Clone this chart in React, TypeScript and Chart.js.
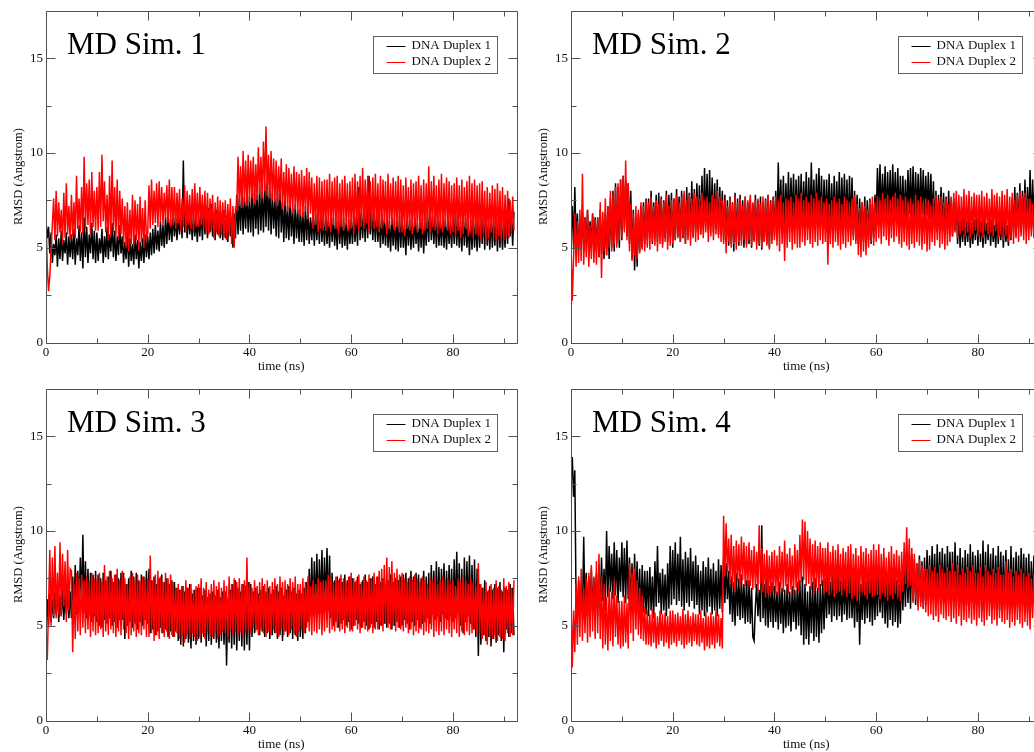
import React, { useEffect, useRef } from "react";
import { Chart, registerables } from "chart.js";

Chart.register(...registerables);

// Sampling interval of the RMSD traces, in ns
const STEP_NS = 0.25;
// Trace values are stored in tenths of an Angstrom
const RMSD_UNIT = 0.1;
const X_MAX = 92.5;
const Y_MAX = 17.5;
const X_MAJOR_TICKS = [0, 20, 40, 60, 80];
const X_MINOR_TICKS = [10, 30, 50, 70, 90];
const Y_MAJOR_TICKS = [0, 5, 10, 15];
const Y_MINOR_TICKS = [2.5, 7.5, 12.5];
const SERIES_LABELS = ["DNA Duplex 1", "DNA Duplex 2"];
const SERIES_COLORS = ["#000000", "#ff0000"];
const SIM_TITLES = ["MD Sim. 1", "MD Sim. 2", "MD Sim. 3", "MD Sim. 4"];
const X_TITLE = "time (ns)";
const Y_TITLE = "RMSD (Angstrom)";

// RMSD in 0.1 Angstrom, one sample per 0.25 ns, one row per 5 ns
const sim1Duplex1 = [
  64, 55, 61, 47, 58, 42, 52, 46, 57, 40, 55, 44, 59, 43, 54, 47, 58, 41, 56, 45,
  57, 44, 60, 41, 55, 46, 62, 43, 58, 39, 66, 45, 61, 42, 57, 47, 63, 44, 59, 42,
  58, 43, 55, 47, 60, 42, 56, 45, 61, 44, 57, 48, 63, 45, 59, 43, 56, 46, 62, 47,
  56, 42, 53, 44, 58, 40, 55, 43, 52, 41, 57, 44, 54, 39, 53, 43, 55, 42, 57, 45,
  56, 44, 58, 46, 60, 47, 62, 49, 59, 48, 64, 51, 62, 50, 66, 52, 68, 54, 65, 53,
  69, 56, 66, 54, 68, 57, 70, 55, 96, 58, 67, 55, 69, 57, 66, 54, 68, 56, 65, 53,
  67, 56, 70, 54, 72, 57, 69, 55, 71, 58, 73, 56, 68, 54, 70, 57, 69, 55, 67, 54,
  70, 55, 67, 53, 69, 56, 66, 50, 68, 55, 78, 57, 76, 59, 80, 57, 77, 60, 79, 58,
  77, 58, 79, 56, 81, 60, 78, 57, 83, 59, 80, 58, 84, 61, 86, 59, 82, 57, 79, 60,
  76, 56, 81, 55, 84, 58, 74, 53, 77, 55, 72, 54, 75, 56, 71, 52, 73, 55, 70, 53,
  71, 53, 69, 51, 72, 54, 70, 52, 66, 54, 69, 51, 68, 54, 67, 52, 70, 53, 66, 51,
  67, 52, 65, 50, 68, 53, 66, 51, 64, 49, 67, 52, 65, 50, 66, 51, 63, 49, 65, 52,
  65, 52, 67, 53, 66, 51, 82, 54, 69, 55, 70, 53, 72, 55, 88, 57, 71, 54, 69, 53,
  69, 53, 66, 50, 68, 52, 65, 51, 67, 50, 64, 48, 66, 51, 65, 49, 64, 48, 67, 50,
  66, 50, 63, 46, 67, 51, 65, 49, 64, 50, 66, 52, 63, 48, 65, 50, 66, 47, 64, 51,
  69, 53, 70, 54, 67, 52, 66, 50, 68, 51, 64, 51, 67, 50, 65, 49, 66, 52, 64, 50,
  68, 52, 69, 51, 66, 50, 64, 48, 67, 51, 66, 50, 63, 46, 65, 49, 67, 50, 64, 48,
  67, 50, 65, 52, 68, 49, 66, 51, 64, 49, 67, 50, 65, 51, 68, 48, 66, 50, 64, 49,
  65, 50, 69, 52, 76, 56, 67, 51, 69,
];
const sim1Duplex2 = [
  66, 40, 27, 35, 50, 62, 76, 54, 80, 56, 74, 58, 70, 52, 79, 55, 84, 57, 72, 54,
  78, 56, 74, 55, 88, 60, 76, 58, 82, 57, 98, 60, 84, 62, 86, 57, 90, 61, 80, 59,
  82, 59, 90, 61, 99, 64, 85, 58, 78, 54, 88, 56, 96, 58, 82, 56, 86, 55, 80, 57,
  76, 52, 72, 50, 74, 48, 70, 52, 78, 51, 75, 54, 73, 49, 77, 53, 71, 50, 75, 54,
  58, 83, 60, 86, 62, 80, 63, 84, 61, 85, 64, 82, 62, 79, 65, 83, 63, 86, 61, 82,
  62, 82, 60, 79, 63, 81, 59, 76, 61, 83, 58, 80, 62, 78, 60, 81, 59, 84, 61, 79,
  61, 82, 62, 78, 60, 80, 58, 79, 57, 76, 59, 78, 55, 74, 58, 77, 56, 75, 57, 74,
  56, 75, 54, 73, 57, 76, 52, 72, 50, 71, 70, 98, 72, 93, 71, 101, 74, 96, 72, 99,
  74, 96, 76, 98, 73, 94, 75, 103, 78, 98, 76, 106, 80, 114, 77, 99, 76, 101, 75, 97,
  74, 96, 72, 93, 75, 97, 70, 90, 72, 94, 69, 92, 71, 89, 68, 93, 70, 90, 68, 89,
  67, 91, 66, 88, 69, 92, 65, 90, 68, 87, 60, 84, 62, 88, 58, 87, 60, 85, 59, 86,
  59, 86, 61, 89, 58, 85, 62, 87, 60, 88, 57, 84, 61, 86, 59, 88, 62, 84, 59, 85,
  60, 87, 57, 89, 62, 85, 59, 88, 61, 92, 60, 86, 63, 88, 58, 85, 61, 87, 60, 89,
  61, 84, 58, 88, 60, 86, 63, 85, 57, 89, 60, 84, 62, 87, 59, 85, 61, 88, 58, 86,
  58, 83, 56, 87, 60, 82, 59, 86, 57, 84, 61, 85, 58, 88, 60, 83, 57, 86, 59, 84,
  60, 93, 58, 85, 61, 88, 59, 83, 57, 86, 60, 89, 58, 84, 61, 87, 59, 85, 57, 83,
  58, 84, 56, 87, 59, 83, 55, 86, 57, 82, 60, 85, 56, 88, 58, 84, 55, 86, 57, 83,
  56, 84, 54, 85, 57, 80, 53, 82, 55, 79, 58, 83, 55, 81, 54, 84, 56, 80, 53, 82,
  54, 78, 56, 80, 55, 75, 58, 77, 59,
];
const sim2Duplex1 = [
  56, 72, 50, 82, 53, 68, 49, 65, 51, 69, 48, 66, 52, 70, 47, 64, 50, 68, 49, 66,
  48, 66, 45, 70, 47, 64, 44, 68, 46, 72, 44, 76, 50, 80, 48, 84, 52, 82, 50, 86,
  54, 88, 60, 86, 56, 84, 52, 80, 44, 70, 38, 66, 40, 68, 48, 72, 50, 74, 52, 76,
  54, 76, 56, 80, 52, 74, 55, 78, 53, 79, 56, 77, 52, 75, 55, 80, 53, 78, 56, 79,
  50, 76, 54, 81, 56, 77, 53, 80, 55, 78, 52, 82, 56, 79, 58, 85, 56, 81, 58, 84,
  59, 83, 57, 88, 60, 92, 62, 89, 59, 91, 61, 87, 58, 84, 60, 86, 57, 82, 59, 80,
  54, 78, 53, 75, 51, 77, 52, 74, 48, 79, 53, 76, 51, 78, 54, 75, 50, 77, 52, 74,
  52, 76, 50, 73, 54, 78, 53, 75, 51, 77, 49, 74, 53, 76, 52, 78, 50, 75, 54, 77,
  56, 80, 58, 95, 62, 86, 59, 88, 60, 84, 63, 90, 61, 87, 64, 89, 60, 86, 62, 88,
  63, 89, 61, 85, 64, 90, 60, 87, 62, 95, 63, 86, 61, 89, 65, 92, 62, 88, 60, 86,
  63, 86, 61, 89, 60, 84, 62, 88, 59, 85, 62, 90, 60, 87, 63, 89, 61, 86, 59, 88,
  60, 87, 56, 80, 54, 78, 52, 76, 55, 74, 53, 77, 51, 75, 54, 76, 52, 73, 55, 78,
  66, 92, 68, 94, 65, 89, 67, 93, 64, 90, 67, 91, 65, 94, 68, 90, 66, 92, 64, 88,
  66, 88, 63, 86, 65, 91, 68, 92, 66, 93, 64, 90, 67, 89, 65, 92, 68, 91, 66, 88,
  67, 90, 65, 89, 63, 85, 60, 80, 58, 78, 61, 82, 59, 79, 57, 77, 60, 80, 58, 76,
  56, 76, 59, 74, 52, 68, 50, 65, 53, 67, 51, 64, 53, 66, 50, 63, 52, 65, 54, 67,
  51, 66, 53, 64, 50, 69, 52, 63, 54, 67, 51, 65, 53, 62, 50, 66, 52, 64, 54, 67,
  50, 65, 53, 62, 51, 68, 54, 76, 58, 82, 56, 79, 60, 84, 58, 80, 61, 86, 59, 82,
  62, 91, 60, 86, 63, 88, 61, 90, 64,
];
const sim2Duplex2 = [
  52, 22, 44, 68, 40, 64, 42, 70, 43, 89, 41, 66, 45, 70, 40, 62, 44, 68, 42, 65,
  41, 66, 45, 74, 34, 69, 48, 76, 46, 72, 50, 80, 48, 78, 52, 82, 50, 84, 54, 86,
  55, 88, 58, 96, 54, 84, 48, 73, 43, 68, 46, 72, 44, 70, 47, 74, 49, 72, 48, 75,
  50, 74, 49, 77, 53, 72, 51, 75, 48, 73, 52, 76, 50, 74, 53, 78, 49, 72, 51, 75,
  52, 76, 54, 78, 55, 74, 53, 77, 56, 80, 52, 75, 54, 78, 51, 76, 55, 79, 53, 77,
  54, 76, 57, 79, 55, 75, 58, 77, 53, 74, 56, 78, 54, 76, 57, 80, 55, 77, 53, 75,
  52, 75, 47, 72, 53, 76, 50, 73, 52, 77, 49, 74, 53, 76, 51, 72, 54, 77, 50, 75,
  54, 78, 51, 74, 53, 75, 49, 76, 52, 73, 50, 77, 53, 75, 51, 78, 49, 74, 52, 76,
  54, 77, 51, 75, 48, 78, 52, 74, 43, 76, 50, 75, 53, 77, 49, 74, 52, 78, 50, 76,
  50, 79, 53, 75, 51, 77, 54, 74, 52, 78, 50, 76, 53, 79, 51, 75, 54, 77, 52, 74,
  53, 76, 41, 73, 52, 75, 50, 77, 53, 74, 51, 76, 49, 73, 52, 77, 50, 75, 53, 74,
  51, 76, 54, 78, 52, 73, 46, 71, 45, 74, 48, 72, 46, 70, 50, 75, 53, 77, 51, 74,
  53, 77, 55, 75, 52, 79, 56, 76, 54, 78, 51, 75, 55, 77, 53, 79, 56, 76, 52, 78,
  50, 75, 53, 77, 51, 74, 49, 76, 52, 73, 50, 78, 53, 75, 51, 77, 49, 74, 52, 76,
  48, 75, 49, 72, 53, 76, 51, 78, 54, 75, 50, 77, 52, 74, 49, 76, 51, 73, 53, 77,
  56, 79, 58, 80, 55, 78, 57, 77, 59, 81, 56, 78, 58, 80, 55, 77, 57, 79, 59, 78,
  56, 78, 58, 80, 55, 77, 59, 79, 57, 76, 58, 81, 56, 78, 59, 79, 55, 77, 57, 80,
  54, 78, 56, 81, 53, 77, 55, 79, 52, 75, 55, 78, 53, 80, 56, 77, 54, 79, 52, 76,
  54, 76, 56, 73, 55, 77, 57, 75, 58,
];
const sim3Duplex1 = [
  46, 64, 50, 67, 52, 64, 54, 68, 56, 70, 52, 66, 55, 69, 53, 67, 56, 70, 54, 68,
  54, 76, 58, 82, 56, 79, 60, 86, 62, 98, 57, 84, 54, 80, 56, 78, 52, 77, 55, 79,
  52, 77, 50, 75, 49, 78, 53, 74, 51, 76, 54, 79, 50, 73, 52, 77, 49, 75, 53, 78,
  53, 78, 43, 72, 50, 75, 52, 79, 49, 76, 51, 78, 48, 74, 52, 77, 50, 76, 53, 79,
  51, 80, 46, 74, 48, 76, 45, 72, 47, 75, 49, 77, 46, 73, 48, 75, 44, 72, 47, 74,
  44, 73, 47, 70, 42, 69, 40, 71, 39, 68, 43, 70, 41, 72, 38, 67, 42, 69, 40, 70,
  43, 70, 41, 66, 44, 69, 39, 65, 42, 67, 40, 68, 43, 66, 41, 69, 38, 65, 42, 68,
  40, 68, 29, 64, 41, 69, 38, 72, 40, 74, 37, 70, 42, 68, 39, 72, 37, 71, 40, 73,
  37, 72, 44, 68, 46, 70, 48, 67, 45, 69, 47, 71, 44, 68, 46, 70, 43, 67, 45, 69,
  46, 71, 43, 68, 45, 70, 42, 66, 47, 69, 44, 71, 46, 68, 43, 70, 45, 67, 42, 69,
  44, 67, 43, 70, 46, 73, 52, 80, 56, 86, 55, 84, 58, 88, 56, 85, 59, 90, 57, 86,
  60, 91, 58, 87, 54, 78, 50, 74, 52, 76, 49, 75, 51, 73, 53, 77, 50, 74, 52, 76,
  48, 75, 50, 73, 53, 76, 51, 72, 49, 74, 52, 77, 50, 73, 48, 75, 51, 76, 49, 72,
  52, 76, 48, 73, 50, 75, 51, 72, 49, 74, 51, 77, 48, 73, 50, 75, 52, 74, 49, 76,
  50, 77, 53, 78, 51, 75, 48, 79, 52, 76, 50, 78, 53, 77, 49, 75, 51, 79, 52, 76,
  54, 78, 51, 82, 56, 79, 53, 84, 55, 81, 52, 80, 56, 83, 54, 79, 53, 82, 55, 80,
  52, 85, 54, 89, 56, 83, 50, 80, 46, 86, 52, 84, 55, 87, 51, 82, 48, 85, 44, 80,
  34, 72, 40, 70, 45, 74, 42, 68, 44, 71, 39, 69, 43, 72, 41, 70, 45, 73, 42, 68,
  36, 70, 48, 69, 44, 72, 46, 70, 45,
];
const sim3Duplex2 = [
  45, 32, 60, 90, 50, 86, 55, 92, 54, 78, 56, 94, 55, 88, 60, 84, 52, 90, 58, 80,
  79, 36, 72, 43, 78, 47, 75, 45, 77, 49, 74, 46, 76, 48, 73, 44, 78, 47, 75, 45,
  74, 46, 78, 48, 73, 44, 82, 47, 76, 45, 79, 48, 75, 46, 77, 44, 80, 47, 74, 45,
  79, 48, 75, 46, 72, 43, 76, 45, 78, 47, 74, 44, 77, 46, 73, 45, 76, 48, 75, 44,
  75, 44, 87, 46, 74, 42, 77, 45, 79, 43, 76, 46, 73, 44, 78, 47, 75, 43, 77, 45,
  73, 44, 70, 46, 72, 43, 69, 45, 71, 41, 74, 45, 70, 43, 72, 46, 69, 44, 71, 42,
  72, 44, 75, 46, 70, 43, 73, 47, 69, 45, 72, 44, 74, 46, 71, 43, 73, 45, 70, 47,
  74, 46, 71, 44, 76, 48, 72, 45, 75, 47, 73, 45, 75, 47, 72, 44, 74, 46, 86, 48,
  73, 46, 70, 49, 74, 47, 71, 45, 73, 48, 75, 46, 72, 44, 74, 47, 71, 45, 73, 48,
  75, 46, 72, 44, 76, 48, 73, 45, 74, 47, 72, 45, 75, 48, 73, 46, 76, 44, 72, 47,
  72, 48, 75, 46, 73, 49, 76, 47, 71, 45, 74, 47, 72, 46, 75, 48, 73, 45, 74, 47,
  74, 49, 77, 46, 75, 48, 73, 47, 76, 49, 74, 47, 77, 48, 75, 46, 73, 49, 76, 47,
  78, 47, 75, 50, 74, 48, 77, 46, 73, 49, 76, 48, 74, 47, 77, 49, 75, 46, 78, 48,
  76, 48, 79, 50, 80, 47, 82, 51, 86, 49, 81, 48, 84, 50, 78, 47, 80, 49, 77, 48,
  78, 47, 75, 49, 73, 46, 76, 48, 74, 45, 77, 47, 75, 46, 73, 48, 76, 45, 74, 47,
  72, 46, 75, 48, 73, 44, 76, 47, 72, 45, 74, 47, 76, 45, 73, 48, 75, 46, 72, 44,
  74, 48, 71, 46, 75, 44, 73, 47, 76, 45, 74, 47, 72, 45, 75, 46, 73, 48, 71, 45,
  83, 46, 72, 43, 70, 45, 73, 40, 69, 44, 72, 43, 70, 45, 74, 42, 71, 44, 69, 43,
  75, 42, 71, 46, 73, 44, 70, 45, 74,
];
const sim4Duplex1 = [
  126, 139, 118, 132, 62, 56, 74, 53, 72, 56, 97, 58, 78, 55, 76, 54, 80, 57, 75, 59,
  78, 55, 82, 60, 86, 63, 80, 58, 100, 65, 92, 68, 88, 64, 94, 66, 90, 62, 86, 68,
  94, 65, 91, 62, 95, 64, 86, 59, 83, 56, 88, 60, 84, 58, 80, 55, 82, 57, 79, 56,
  79, 55, 81, 58, 76, 54, 84, 60, 92, 62, 78, 56, 80, 58, 77, 55, 83, 59, 92, 61,
  90, 64, 94, 61, 88, 63, 97, 60, 85, 58, 89, 62, 86, 60, 91, 63, 84, 59, 87, 61,
  82, 56, 79, 58, 84, 55, 81, 57, 86, 60, 80, 56, 83, 58, 79, 55, 85, 59, 82, 57,
  85, 62, 83, 64, 79, 56, 76, 52, 73, 50, 78, 55, 75, 53, 77, 54, 72, 51, 74, 52,
  74, 51, 70, 44, 42, 60, 72, 55, 69, 52, 103, 54, 72, 50, 75, 49, 71, 52, 73, 49,
  71, 52, 68, 48, 73, 51, 70, 46, 69, 49, 72, 50, 68, 47, 71, 52, 69, 48, 73, 50,
  74, 45, 76, 40, 72, 43, 68, 40, 71, 46, 73, 42, 75, 44, 70, 41, 72, 46, 74, 48,
  75, 54, 78, 56, 73, 52, 79, 55, 76, 53, 78, 55, 74, 52, 77, 56, 75, 53, 79, 54,
  78, 54, 74, 49, 77, 52, 75, 40, 72, 53, 76, 51, 74, 54, 78, 52, 75, 50, 77, 53,
  76, 55, 80, 57, 74, 54, 78, 51, 73, 49, 77, 53, 75, 50, 79, 52, 74, 49, 72, 51,
  79, 58, 82, 60, 86, 62, 84, 59, 88, 63, 85, 61, 83, 60, 87, 62, 84, 59, 86, 61,
  90, 64, 87, 62, 92, 65, 88, 61, 93, 64, 89, 63, 91, 62, 88, 60, 92, 64, 89, 62,
  89, 60, 94, 63, 87, 59, 91, 62, 86, 58, 90, 61, 88, 60, 93, 62, 89, 59, 87, 61,
  90, 61, 88, 57, 95, 60, 89, 58, 93, 62, 88, 60, 91, 59, 87, 61, 92, 58, 89, 60,
  87, 59, 90, 61, 85, 56, 92, 59, 86, 57, 89, 60, 87, 58, 91, 61, 88, 59, 86, 57,
  88, 60, 84, 62, 87, 59, 85, 61, 79,
];
const sim4Duplex2 = [
  62, 28, 58, 36, 72, 40, 76, 44, 80, 42, 70, 46, 75, 41, 78, 44, 82, 47, 76, 43,
  84, 46, 88, 43, 76, 38, 72, 40, 65, 37, 70, 42, 68, 39, 74, 44, 66, 40, 63, 38,
  63, 39, 66, 41, 62, 38, 83, 46, 78, 42, 80, 48, 74, 45, 70, 43, 66, 42, 60, 40,
  58, 40, 56, 39, 59, 41, 57, 38, 55, 40, 58, 42, 56, 39, 57, 41, 55, 38, 58, 40,
  58, 41, 56, 39, 57, 42, 55, 40, 59, 38, 56, 40, 58, 41, 55, 39, 57, 42, 56, 40,
  56, 39, 58, 41, 54, 37, 57, 39, 55, 38, 57, 40, 55, 38, 58, 41, 56, 39, 54, 38,
  108, 76, 104, 78, 96, 72, 98, 70, 92, 68, 95, 73, 93, 70, 97, 74, 94, 71, 92, 69,
  94, 71, 90, 69, 92, 70, 89, 68, 103, 72, 91, 68, 88, 65, 90, 67, 87, 66, 89, 68,
  90, 67, 87, 66, 92, 70, 89, 68, 95, 71, 88, 67, 91, 69, 87, 66, 93, 70, 90, 68,
  98, 73, 106, 74, 105, 71, 100, 72, 96, 69, 93, 67, 95, 70, 92, 68, 94, 71, 91, 67,
  91, 68, 94, 66, 89, 69, 92, 65, 90, 67, 93, 68, 88, 66, 91, 69, 89, 65, 92, 67,
  93, 64, 88, 66, 91, 63, 87, 65, 92, 68, 89, 66, 91, 64, 88, 67, 90, 65, 93, 66,
  90, 66, 93, 64, 88, 67, 91, 65, 86, 63, 89, 66, 92, 64, 88, 67, 90, 65, 87, 63,
  89, 68, 94, 72, 102, 70, 96, 71, 91, 62, 88, 64, 83, 58, 85, 60, 82, 59, 80, 57,
  80, 55, 82, 56, 79, 53, 81, 55, 78, 52, 82, 56, 80, 54, 78, 53, 81, 55, 79, 52,
  83, 54, 79, 51, 82, 55, 77, 50, 80, 53, 78, 52, 81, 54, 79, 51, 82, 53, 78, 50,
  78, 54, 81, 52, 76, 50, 82, 53, 79, 55, 77, 51, 80, 53, 78, 50, 81, 54, 77, 52,
  77, 51, 84, 53, 78, 49, 80, 52, 76, 50, 79, 53, 77, 51, 80, 49, 78, 52, 76, 50,
  78, 48, 75, 54, 77, 50, 76, 53, 72,
];

const SERIF = "'Liberation Serif', 'Times New Roman', 'DejaVu Serif', serif";
const FRAME_COLOR = "#505050";
const TEXT_COLOR = "#111111";
const TRACE_WIDTH = 1.5;

// Geometry of one panel canvas (plot frame sits inside it)
const CANVAS_W = 526;
const CANVAS_H = 376;
const PLOT_TOP = 10.5;
const PLOT_RIGHT_GAP = 9.5;
const Y_AXIS_W = 46;
const X_AXIS_H = 33.5;
const MAJOR_TICK = 9;
const MINOR_TICK = 5;

type PanelSpec = {
  title: string;
  duplex1: number[];
  duplex2: number[];
  left: number;
  top: number;
};

const PANELS: PanelSpec[] = [
  { title: SIM_TITLES[0], duplex1: sim1Duplex1, duplex2: sim1Duplex2, left: 0, top: 0 },
  { title: SIM_TITLES[1], duplex1: sim2Duplex1, duplex2: sim2Duplex2, left: 525, top: 0 },
  { title: SIM_TITLES[2], duplex1: sim3Duplex1, duplex2: sim3Duplex2, left: 0, top: 378 },
  { title: SIM_TITLES[3], duplex1: sim4Duplex1, duplex2: sim4Duplex2, left: 525, top: 378 },
];

const toPoints = (values: number[]) =>
  values.map((v, i) => ({ x: i * STEP_NS, y: v * RMSD_UNIT }));

function Panel({ spec }: { spec: PanelSpec }) {
  const ref = useRef<HTMLCanvasElement | null>(null);

  useEffect(() => {
    const canvas = ref.current;
    if (!canvas) return;

    // Boxed frame with inward ticks on all four sides, the run title and the legend box
    const gracePlugin = {
      id: "graceFrame",
      afterDraw(chart: any) {
        const { ctx, chartArea: a, scales } = chart;
        const xs = scales.x;
        const ys = scales.y;
        ctx.save();
        ctx.strokeStyle = FRAME_COLOR;
        ctx.lineWidth = 1;
        const L = Math.round(a.left) + 0.5;
        const R = Math.round(a.right) + 0.5;
        const T = Math.round(a.top) + 0.5;
        const B = Math.round(a.bottom) + 0.5;
        ctx.beginPath();
        ctx.rect(L, T, R - L, B - T);
        const xTick = (v: number, len: number) => {
          const px = Math.round(xs.getPixelForValue(v)) + 0.5;
          ctx.moveTo(px, B);
          ctx.lineTo(px, B - len);
          ctx.moveTo(px, T);
          ctx.lineTo(px, T + len);
        };
        const yTick = (v: number, len: number) => {
          const py = Math.round(ys.getPixelForValue(v)) + 0.5;
          ctx.moveTo(L, py);
          ctx.lineTo(L + len, py);
          ctx.moveTo(R, py);
          ctx.lineTo(R - len, py);
        };
        X_MAJOR_TICKS.forEach((v) => xTick(v, MAJOR_TICK));
        X_MINOR_TICKS.forEach((v) => xTick(v, MINOR_TICK));
        Y_MAJOR_TICKS.forEach((v) => yTick(v, MAJOR_TICK));
        Y_MINOR_TICKS.forEach((v) => yTick(v, MINOR_TICK));
        ctx.stroke();

        // run title
        ctx.fillStyle = "#000";
        ctx.font = `31px ${SERIF}`;
        ctx.textAlign = "left";
        ctx.textBaseline = "alphabetic";
        ctx.fillText(spec.title, a.left + 21, a.top + 43);

        // legend
        const bx = Math.round(a.left + 327) + 0.5;
        const by = Math.round(a.top + 25.5) + 0.5;
        const bw = 124;
        const bh = 37;
        ctx.fillStyle = "#ffffff";
        ctx.fillRect(bx, by, bw, bh);
        ctx.strokeStyle = "#606060";
        ctx.strokeRect(bx, by, bw, bh);
        ctx.font = `13px ${SERIF}`;
        ctx.textBaseline = "middle";
        SERIES_LABELS.forEach((label, i) => {
          const ry = by + 9 + i * 16.5;
          ctx.strokeStyle = SERIES_COLORS[i];
          ctx.beginPath();
          ctx.moveTo(bx + 13, Math.round(ry) + 0.5);
          ctx.lineTo(bx + 32, Math.round(ry) + 0.5);
          ctx.stroke();
          ctx.fillStyle = TEXT_COLOR;
          ctx.fillText(label, bx + 38, ry);
        });
        ctx.restore();
      },
    };

    const chart = new Chart(canvas, {
      type: "line",
      data: {
        datasets: [
          {
            label: SERIES_LABELS[0],
            data: toPoints(spec.duplex1),
            borderColor: SERIES_COLORS[0],
            borderWidth: TRACE_WIDTH,
            pointRadius: 0,
            tension: 0,
            fill: false,
            order: 1,
          },
          {
            label: SERIES_LABELS[1],
            data: toPoints(spec.duplex2),
            borderColor: SERIES_COLORS[1],
            borderWidth: TRACE_WIDTH,
            pointRadius: 0,
            tension: 0,
            fill: false,
            order: 0,
          },
        ],
      },
      options: {
        animation: false,
        responsive: false,
        events: [],
        layout: { padding: { left: 0, top: PLOT_TOP, right: PLOT_RIGHT_GAP, bottom: 0 } },
        plugins: {
          legend: { display: false },
          tooltip: { enabled: false },
          title: { display: false },
        },
        scales: {
          x: {
            type: "linear",
            min: 0,
            max: X_MAX,
            grid: { display: false, drawTicks: false },
            border: { display: false },
            ticks: {
              stepSize: 10,
              includeBounds: false,
              autoSkip: false,
              maxRotation: 0,
              padding: 2,
              color: TEXT_COLOR,
              font: { family: SERIF, size: 13 },
              callback: (v: any) => (X_MAJOR_TICKS.includes(Number(v)) ? String(v) : ""),
            },
            title: {
              display: true,
              text: X_TITLE,
              color: TEXT_COLOR,
              font: { family: SERIF, size: 13 },
              padding: { top: 0, bottom: 2 },
            },
            afterFit: (s: any) => {
              s.height = X_AXIS_H;
            },
          },
          y: {
            type: "linear",
            min: 0,
            max: Y_MAX,
            grid: { display: false, drawTicks: false },
            border: { display: false },
            ticks: {
              stepSize: 2.5,
              includeBounds: false,
              autoSkip: false,
              padding: 3,
              color: TEXT_COLOR,
              font: { family: SERIF, size: 13 },
              callback: (v: any) => (Y_MAJOR_TICKS.includes(Number(v)) ? String(v) : ""),
            },
            title: {
              display: true,
              text: Y_TITLE,
              color: TEXT_COLOR,
              font: { family: SERIF, size: 12.5 },
              padding: { top: 11, bottom: 0 },
            },
            afterFit: (s: any) => {
              s.width = Y_AXIS_W;
            },
          },
        },
      },
      plugins: [gracePlugin],
    });

    return () => chart.destroy();
  }, [spec]);

  return (
    <canvas
      ref={ref}
      width={CANVAS_W}
      height={CANVAS_H}
      style={{
        position: "absolute",
        left: spec.left,
        top: spec.top,
        width: CANVAS_W,
        height: CANVAS_H,
      }}
    />
  );
}

export default function App() {
  return (
    <div
      style={{
        position: "fixed",
        left: 0,
        top: 0,
        width: 1034,
        height: 752,
        overflow: "hidden",
        background: "#ffffff",
      }}
    >
      {PANELS.map((p) => (
        <Panel key={p.title} spec={p} />
      ))}
    </div>
  );
}
